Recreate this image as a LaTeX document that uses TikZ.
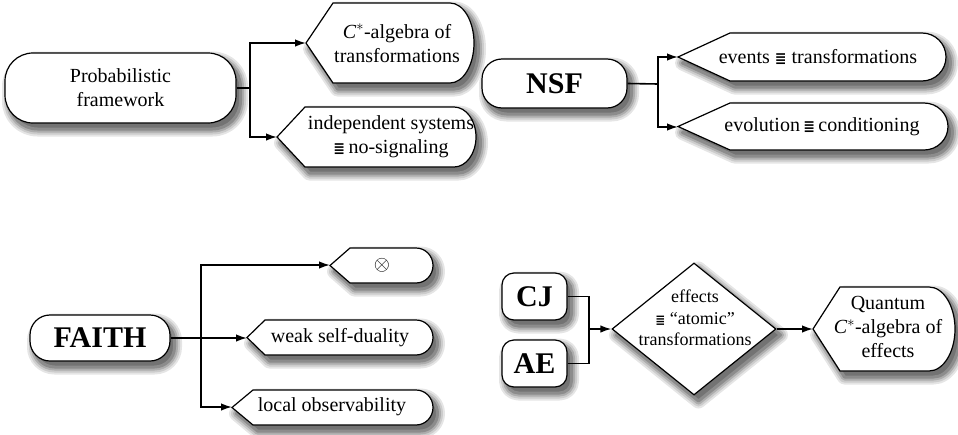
\documentclass[tikz,border=0pt]{standalone}
\usepackage{fontspec}
\setmainfont{Liberation Serif}
\newfontfamily\symf{DejaVu Sans}
\usetikzlibrary{arrows.meta,shapes.geometric}
\newcommand\eqv{{\symf\bfseries\fontsize{14}{14}\selectfont ≣}}
\newcommand\eqvs{{\symf\bfseries\fontsize{12}{12}\selectfont ≣}}
\newcommand\cstar{\textit{C}$^{*}$}
% soft shadow of a path, drawn shifted right/down
\newcommand\shadowof[1]{%
  \begin{scope}[shift={(4.5,6)}, line join=round]
    \path[draw=black!10, line width=15pt] #1;
    \path[draw=black!20, line width=11pt] #1;
    \path[draw=black!32, line width=7pt] #1;
    \path[draw=black!45, line width=3pt, fill=black!55] #1;
  \end{scope}}
% display shape: #1 left tip x, #2 corner x, #3 right x, #4 top y, #5 bottom y, #6 radius
\newcommand\disppath[6]{(#1,{(#4+#5)/2}) -- (#2,#4) -- ({#3-#6},#4)
   .. controls ({#3-#6+0.5523*#6},#4) and (#3,{(#4+#5)/2-0.5523*(#5-#4)/2}) .. (#3,{(#4+#5)/2})
   .. controls (#3,{(#4+#5)/2+0.5523*(#5-#4)/2}) and ({#3-#6+0.5523*#6},#5) .. ({#3-#6},#5)
   -- (#2,#5) -- cycle}
\newcommand\dispshape[6]{%
  \shadowof{\disppath{#1}{#2}{#3}{#4}{#5}{#6}}%
  \path[dispbox] \disppath{#1}{#2}{#3}{#4}{#5}{#6};}
% rounded box shadow: cx, cy, w, h, r
\newcommand\boxshadow[5]{%
  \shadowof{[rounded corners=#5pt] ({#1-#3/2},{#2-#4/2}) rectangle ({#1+#3/2},{#2+#4/2})}}
\tikzset{
  dispbox/.style={draw=black, line width=1.2pt, fill=white},
  stadium/.style={draw=black, line width=1.2pt, fill=white, rectangle, inner sep=0pt},
  txt/.style={font=\fontsize{20}{24}\selectfont, align=center, inner sep=0pt},
  bigtxt/.style={font=\fontsize{30}{32}\selectfont\bfseries},
  conn/.style={line width=1.6pt, draw=black},
  arr/.style={conn, -{Latex[length=11pt,width=7.5pt]}},
}
\begin{document}
\begin{tikzpicture}[x=1pt,y=-1pt]
\useasboundingbox (0,0) rectangle (958,434);
% ---------- display shapes ----------
\dispshape{306}{333}{474}{3}{83}{24}
\dispshape{277}{305}{476}{107}{167}{22}
\dispshape{678}{730}{946}{33}{81}{24}
\dispshape{678}{730}{948}{103}{150}{24}
\dispshape{330}{350}{433}{248}{283}{17}
\dispshape{247}{265}{433}{320}{355}{17}
\dispshape{232}{253}{433}{390}{425}{17}
\dispshape{813}{840}{955}{287}{371}{26}
\coordinate (cstarL) at (306,43);
\coordinate (indL) at (277,137);
\coordinate (evL) at (678,57);
\coordinate (evoL) at (678,127);
\coordinate (otL) at (330,265);
\coordinate (weakL) at (247,338);
\coordinate (locL) at (232,407);
\coordinate (quL) at (813,329);
% ---------- stadium nodes ----------
\boxshadow{120.5}{88}{231}{70}{28}
\node[stadium, rounded corners=28pt, minimum width=231pt, minimum height=70pt, txt] (prob) at (120.5,88) {Probabilistic\\framework};
\boxshadow{554.5}{83.5}{145}{49}{20}
\node[stadium, rounded corners=20pt, minimum width=145pt, minimum height=49pt, bigtxt] (nsf) at (554.5,83.5) {NSF};
\boxshadow{100}{338}{140}{46}{20}
\node[stadium, rounded corners=20pt, minimum width=140pt, minimum height=46pt, bigtxt] (faith) at (100,338) {FAITH};
\boxshadow{534.5}{296.5}{65}{47}{12}
\node[stadium, rounded corners=12pt, minimum width=65pt, minimum height=47pt, bigtxt] (cj) at (534.5,296.5) {CJ};
\boxshadow{534.5}{363.5}{65}{47}{12}
\node[stadium, rounded corners=12pt, minimum width=65pt, minimum height=47pt, bigtxt] (ae) at (534.5,363.5) {AE};
\shadowof{(612,329) -- (694,263) -- (776,329) -- (694,395) -- cycle}
\node[diamond, draw=black, line width=1.2pt, fill=white, minimum width=164pt, minimum height=132pt, inner sep=0pt, aspect=1.24] (dia) at (694,329) {};
% ---------- texts ----------
\node[txt] (cstar) at (397,43) {\cstar-algebra of\\transformations};
\node[txt] (ind) at (391,137) {independent systems\\\eqv\,no-signaling};
\node[txt] (ev) at (818,57) {events \eqv\ transformations};
\node[txt] (evo) at (822,127) {evolution\,\eqv\,conditioning};
\node[txt] (ot) at (382,265) {$\otimes$};
\node[txt] (weak) at (340,338) {weak self-duality};
\node[txt] (loc) at (332,407) {local observability};
\node[txt, font=\fontsize{18}{21.5}\selectfont] (diat) at (695,318) {effects\\\eqvs\ ``atomic''\\transformations};
\node[txt, font=\fontsize{20}{24}\selectfont] (qu) at (888,327) {Quantum\\\cstar-algebra of\\effects};
% ---------- connectors ----------
\coordinate (j1) at (250,88);
\draw[conn] (prob.east) -- (j1);
\draw[arr] (j1) |- (cstarL);
\draw[arr] (j1) |- (indL);
\coordinate (j2) at (658,84);
\draw[conn] (nsf.east) -- (j2);
\draw[arr] (j2) |- (evL);
\draw[arr] (j2) |- (evoL);
\coordinate (j3) at (201,338);
\draw[arr] (faith.east) -- (weakL);
\draw[arr] (j3) |- (otL);
\draw[arr] (j3) |- (locL);
\coordinate (j4) at (589,329);
\draw[conn] (cj.east) -| (j4);
\draw[conn] (ae.east) -| (j4);
\draw[arr] (j4) -- (dia.west);
\draw[arr] (dia.east) -- (quL);
\end{tikzpicture}
\end{document}
